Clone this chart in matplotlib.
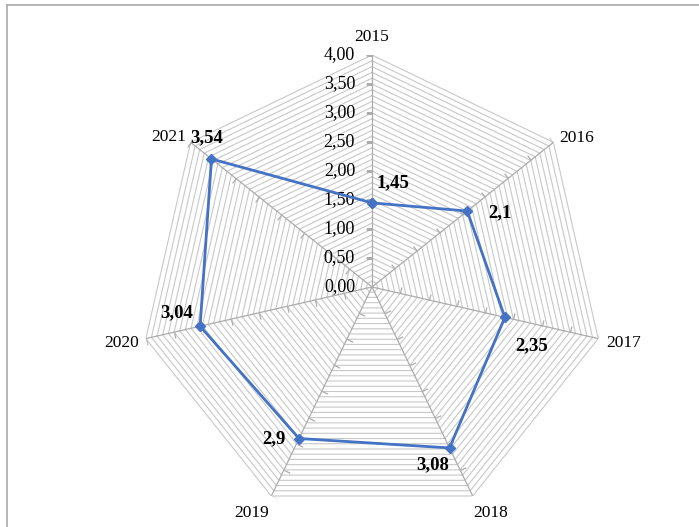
import numpy as np
import matplotlib
matplotlib.use("Agg")
import matplotlib.pyplot as plt
from matplotlib.markers import MarkerStyle
from matplotlib.path import Path
from matplotlib.transforms import Affine2D
from matplotlib.lines import Line2D

plt.rcParams['font.family'] = ['Liberation Serif', 'DejaVu Serif']

years = ["2015", "2016", "2017", "2018", "2019", "2020", "2021"]
values = [1.45, 2.1, 2.35, 3.08, 2.9, 3.04, 3.54]
r_ticks = [0.0, 0.5, 1.0, 1.5, 2.0, 2.5, 3.0, 3.5, 4.0]
r_tick_labels = ["0,00", "0,50", "1,00", "1,50", "2,00", "2,50", "3,00", "3,50", "4,00"]
grid_levels = np.arange(1, 41) / 10

# label offsets in pixels (value labels and category labels)
val_offsets = [(21, 20), (33, -2), (27, -28), (-17, -17), (-25, 0), (-23, 13), (-5, 21)]
cat_offsets = [(0, 18), (23, 4), (25, -4), (18, -17), (-20, -17), (-24, -4), (-22, 5)]

n = len(years)
theta = np.arange(n) * 2 * np.pi / n
theta_closed = np.append(theta, theta[0])

fig = plt.figure(figsize=(6.99, 5.27), dpi=100)
ax = fig.add_axes([0.2003, 0.0152, 0.6638, 0.8805], projection="polar")
ax.set_theta_offset(np.pi / 2)
ax.set_theta_direction(-1)
ax.set_ylim(0, 4)
ax.set_axis_off()

# polygon grid
for r in grid_levels:
    ax.plot(theta_closed, [r] * (n + 1), color="#c8c8c8", lw=0.8, zorder=1)

# spokes + tick marks
for i, t in enumerate(theta):
    ax.plot([t, t], [0, 4], color="#acacac", lw=0.9, zorder=2)
    mk = MarkerStyle(Path([(0, 0), (-1, 0)]),
                     transform=Affine2D().rotate_deg(-np.degrees(t)))
    ax.plot([t] * len(r_ticks[1:]), r_ticks[1:], ls="none", marker=mk,
            markersize=9, markeredgecolor="#acacac", markeredgewidth=0.9, zorder=2)

# radial tick labels
for r, lab in zip(r_ticks, r_tick_labels):
    ax.annotate(lab, xy=(0, r), xytext=(-17, 0), textcoords="offset pixels",
                ha="right", va="center", fontsize=13)

# data
ax.plot(theta_closed, values + [values[0]], color="#4472C4", lw=2,
        marker="D", markersize=5.5, zorder=5)

for t, v, off in zip(theta, values, val_offsets):
    ax.annotate(str(v).replace(".", ","), xy=(t, v), xytext=off,
                textcoords="offset pixels", ha="center", va="center",
                fontsize=13.5, fontweight="bold", zorder=6)

for t, lab, off in zip(theta, years, cat_offsets):
    ax.annotate(lab, xy=(t, 4), xytext=off, textcoords="offset pixels",
                ha="center", va="center", fontsize=12.5)

# chart border (top and left visible)
fig.add_artist(Line2D([7 / 699, 1], [1 - 5 / 527, 1 - 5 / 527], color="#b0b0b0", lw=1.3))
fig.add_artist(Line2D([7 / 699, 7 / 699], [0, 1 - 5 / 527], color="#b0b0b0", lw=1.3))

fig.savefig("out.png", dpi=100)
